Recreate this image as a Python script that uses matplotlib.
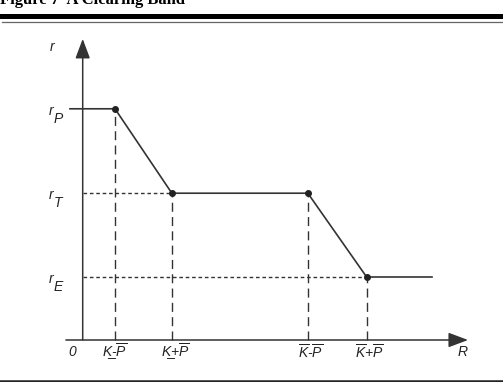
import matplotlib
matplotlib.use('Agg')
import matplotlib.pyplot as plt
from matplotlib.lines import Line2D

plt.rcParams['mathtext.fontset'] = 'custom'
plt.rcParams['mathtext.rm'] = 'Liberation Sans:italic'
plt.rcParams['mathtext.it'] = 'Liberation Sans:italic'

# data: positions of the kinks along R, and the three rates
r_labels = ['P', 'T', 'E']
r_values = [3.67, 2.33, 1.0]
R_ticks = [1.0, 2.76, 6.97, 8.79]
R_tick_labels = ['K\u0332-$\\overline{P}$', 'K\u0332+$\\overline{P}$',
                 r'$\overline{K}$-$\overline{P}$', r'$\overline{K}$+$\overline{P}$']
curve_R = [-0.42, 1.0, 2.76, 6.97, 8.79, 10.84]
curve_r = [3.67, 3.67, 2.33, 2.33, 1.0, 1.0]

W, H = 503, 382
fig = plt.figure(figsize=(W / 100, H / 100), dpi=100)
ax = fig.add_axes([0, 0, 1, 1])
# origin at (82.7, 340) px, 32.3 px per R unit, 63 px per r unit
ax.set_xlim(-82.7 / 32.3, (W - 82.7) / 32.3)
ax.set_ylim(-(H - 340) / 63, 340 / 63)
ax.axis('off')

col = '#333333'
# axes with arrows
ax.annotate('', xy=(11.93, 0), xytext=(-0.52, 0),
            arrowprops=dict(arrowstyle='-|>,head_length=1.2,head_width=0.45', color=col, lw=1.1,
                            shrinkA=0, shrinkB=0))
ax.annotate('', xy=(0, 4.78), xytext=(0, 0),
            arrowprops=dict(arrowstyle='-|>,head_length=1.2,head_width=0.45', color=col, lw=1.1,
                            shrinkA=0, shrinkB=0))

# guide lines
kink_r = [3.67, 2.33, 2.33, 1.0]
for x, y in zip(R_ticks, kink_r):
    ax.plot([x, x], [0, y], color=col, lw=1.0, dashes=(6.5, 3.8))
ax.plot([0, R_ticks[1]], [r_values[1], r_values[1]], color=col, lw=1.0, dashes=(2.6, 2.0))
ax.plot([0, R_ticks[3]], [r_values[2], r_values[2]], color=col, lw=1.0, dashes=(2.6, 2.0))

ax.plot(curve_R, curve_r, color=col, lw=1.2, solid_capstyle='butt')
ax.plot(R_ticks, kink_r, 'o', color='#222222', ms=4)

# labels
lab = dict(family=['Liberation Sans', 'DejaVu Sans'], style='italic', fontsize=10, color='#222222')
ax.text(-0.95, 4.65, 'r', ha='center', va='center', **lab)
for name, v in zip(r_labels, r_values):
    ax.text(-0.98, v - 0.03, 'r', ha='center', va='center', **lab)
    ax.text(-0.76, v - 0.16, name, ha='center', va='center', **lab)
ax.text(-0.33, -0.19, '0', ha='center', va='center', **lab)
offs = [0.0, 0.12, 0.08, 0.08]
for x, s, o in zip(R_ticks, R_tick_labels, offs):
    ax.text(x + o, -0.19, s, ha='center', va='center', **lab)
ax.text(11.77, -0.19, 'R', ha='center', va='center', **lab)

# title and rules
fig.text(0.0, 1 - 4 / H, 'Figure 7  A Clearing Band', family='Liberation Serif', weight='bold',
         fontsize=12, ha='left', va='baseline')
fig.add_artist(Line2D([2 / W, 1], [1 - 15.8 / H] * 2, color='black', lw=3.6))
fig.add_artist(Line2D([2 / W, 1], [1 - 21.5 / H] * 2, color='#666666', lw=0.9))
fig.add_artist(Line2D([0, 1], [1 - 381 / H] * 2, color='#222222', lw=1.8))

fig.savefig('out.png', dpi=100)
